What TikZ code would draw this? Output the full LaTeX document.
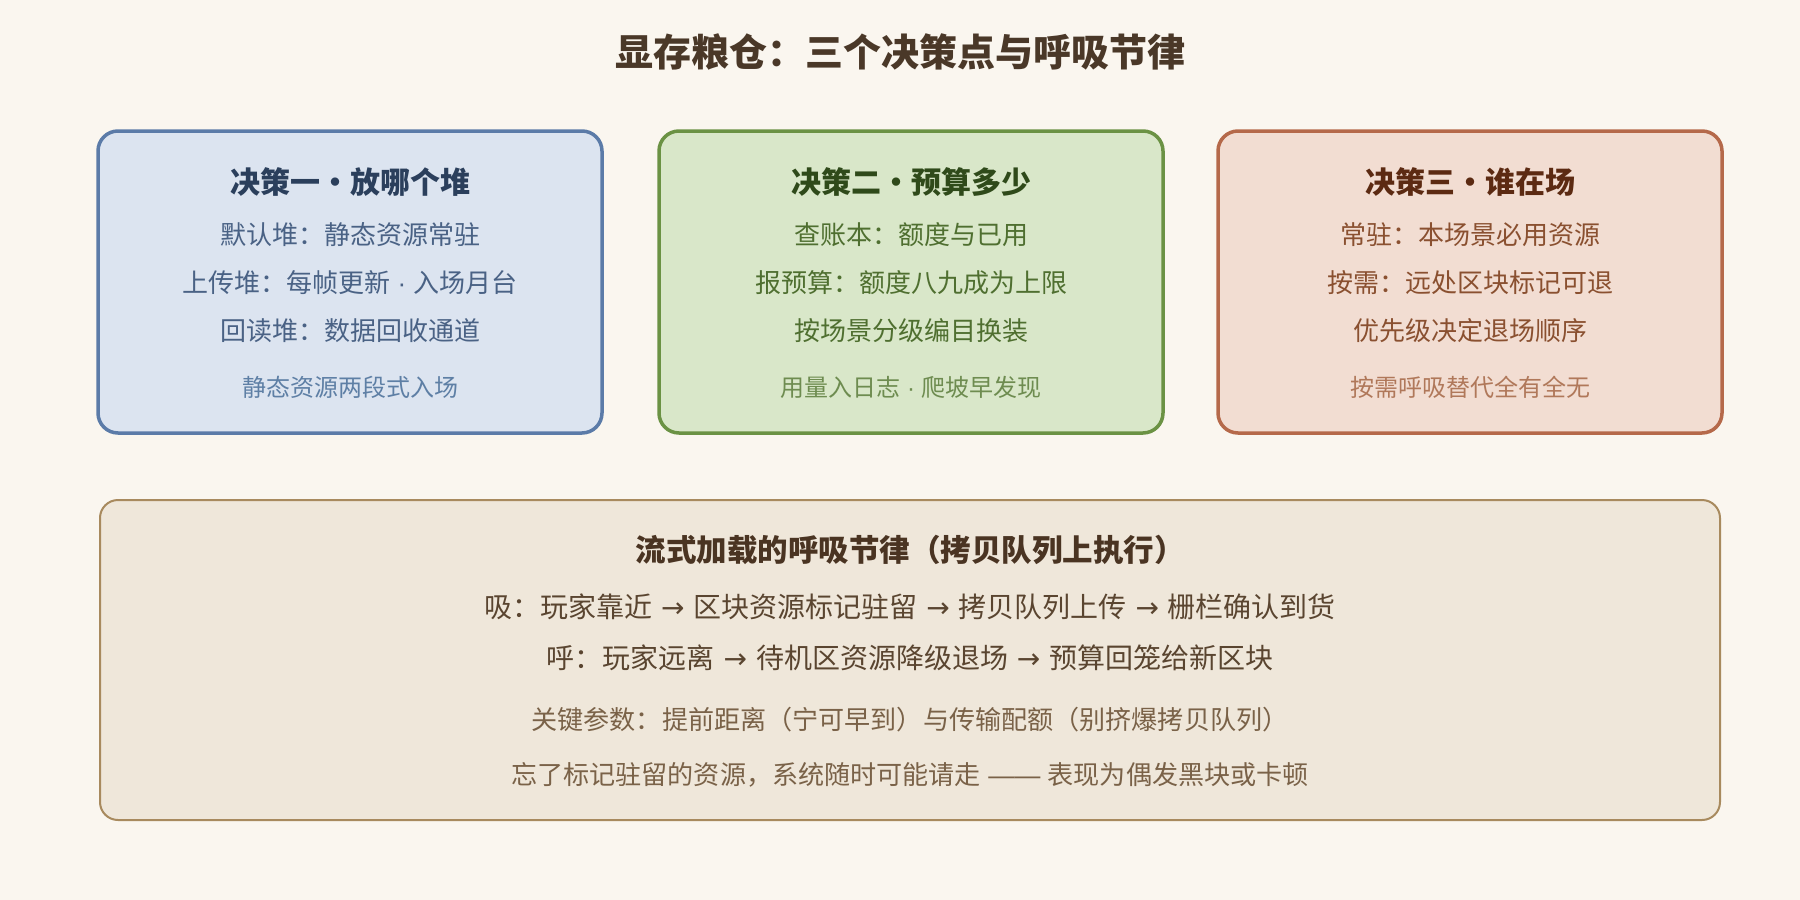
\documentclass[tikz,border=0pt]{standalone}
\usepackage{fontspec}
\setmainfont{Noto Sans CJK SC}
\newfontfamily\latinfont{Liberation Sans}
\newfontfamily\arrowfont{DejaVu Sans}
\usepackage{xcolor}
\usetikzlibrary{positioning}

\definecolor{pagebg}{HTML}{FAF6EF}
\definecolor{titlebrown}{HTML}{4A3828}
\definecolor{heapdraw}{HTML}{5B7BA8}
\definecolor{heapfill}{HTML}{DCE4F0}
\definecolor{heaphead}{HTML}{2B3F5C}
\definecolor{heaptext}{HTML}{4A6285}
\definecolor{heapnote}{HTML}{5E7FA5}
\definecolor{budgetdraw}{HTML}{6B9244}
\definecolor{budgetfill}{HTML}{D9E7C9}
\definecolor{budgethead}{HTML}{2F4A1A}
\definecolor{budgettext}{HTML}{4F6F30}
\definecolor{budgetnote}{HTML}{6E8C50}
\definecolor{residdraw}{HTML}{B5694A}
\definecolor{residfill}{HTML}{F2DDD2}
\definecolor{residhead}{HTML}{5C2A12}
\definecolor{residtext}{HTML}{8A5030}
\definecolor{residnote}{HTML}{B0785A}
\definecolor{breathdraw}{HTML}{A88A5E}
\definecolor{breathfill}{HTML}{EFE7DA}
\definecolor{breathhead}{HTML}{4A3422}
\definecolor{breathtext}{HTML}{5A4530}
\definecolor{breathnote}{HTML}{7A6248}

% separators
\newcommand{\middot}{{\latinfont\ ·\ }}
\newcommand{\flowto}{{\arrowfont\ →\ }}

\begin{document}
\begin{tikzpicture}[x=1pt, y=-1pt,
      card/.style={rectangle, draw, line width=3.5pt, rounded corners=20pt, minimum width=504pt, minimum height=302pt},
      band/.style={rectangle, draw=breathdraw, fill=breathfill, line width=2pt, rounded corners=18pt, minimum width=1620pt, minimum height=320pt},
      cardhead/.style={inner sep=0pt, font=\fontsize{30}{34}\selectfont\bfseries},
      cardline/.style={inner sep=0pt, font=\fontsize{26}{30}\selectfont},
      cardnote/.style={inner sep=0pt, font=\fontsize{24}{28}\selectfont},
      bandline/.style={inner sep=0pt, font=\fontsize{28}{32}\selectfont, text=breathtext},
      bandnote/.style={inner sep=0pt, font=\fontsize{26.1}{30}\selectfont, text=breathnote}
    ]
      \fill[pagebg] (0,0) rectangle (1800,900);

      % Title
      \node[inner sep=0pt, font=\fontsize{38}{42}\selectfont\bfseries, text=titlebrown] (title) at (900,52) {显存粮仓：三个决策点与呼吸节律};

      % Decision cards
      \node[card, draw=heapdraw, fill=heapfill] (heap) at (350,282) {};
      \node[card, draw=budgetdraw, fill=budgetfill] (budget) at (911,282) {};
      \node[card, draw=residdraw, fill=residfill] (resid) at (1470,282) {};

      % Card 1
      \node[cardhead, text=heaphead] (heaphd) at (350,182) {决策一·放哪个堆};
      \node[cardline, text=heaptext] (heapa) at (350,235) {默认堆：静态资源常驻};
      \node[cardline, text=heaptext] (heapb) at (350,283) {上传堆：每帧更新\middot 入场月台};
      \node[cardline, text=heaptext] (heapc) at (350,331) {回读堆：数据回收通道};
      \node[cardnote, text=heapnote] (heapnt) at (350,387) {静态资源两段式入场};

      % Card 2
      \node[cardhead, text=budgethead] (budgethd) at (911,182) {决策二·预算多少};
      \node[cardline, text=budgettext] (budgeta) at (911,235) {查账本：额度与已用};
      \node[cardline, text=budgettext] (budgetb) at (911,283) {报预算：额度八九成为上限};
      \node[cardline, text=budgettext] (budgetc) at (911,331) {按场景分级编目换装};
      \node[cardnote, text=budgetnote] (budgetnt) at (911,387) {用量入日志\middot 爬坡早发现};

      % Card 3
      \node[cardhead, text=residhead] (residhd) at (1470,182) {决策三·谁在场};
      \node[cardline, text=residtext] (resida) at (1470,235) {常驻：本场景必用资源};
      \node[cardline, text=residtext] (residb) at (1470,283) {按需：远处区块标记可退};
      \node[cardline, text=residtext] (residc) at (1470,331) {优先级决定退场顺序};
      \node[cardnote, text=residnote] (residnt) at (1470,387) {按需呼吸替代全有全无};

      % Breathing rhythm
      \node[band] (breath) at (910,660) {};
      \node[inner sep=0pt, font=\fontsize{30.5}{34}\selectfont\bfseries, text=breathhead] (breathhd) at (910,550) {流式加载的呼吸节律（拷贝队列上执行）};
      \node[bandline] (inhale) at (910,607) {吸：玩家靠近\flowto 区块资源标记驻留\flowto 拷贝队列上传\flowto 栅栏确认到货};
      \node[bandline] (exhale) at (910,658) {呼：玩家远离\flowto 待机区资源降级退场\flowto 预算回笼给新区块};
      \node[bandnote] (params) at (910,720) {关键参数：提前距离（宁可早到）与传输配额（别挤爆拷贝队列）};
      \node[bandnote] (warn) at (910,775) {忘了标记驻留的资源，系统随时可能请走{\latinfont\ ——\ }表现为偶发黑块或卡顿};

    \end{tikzpicture}
\end{document}
